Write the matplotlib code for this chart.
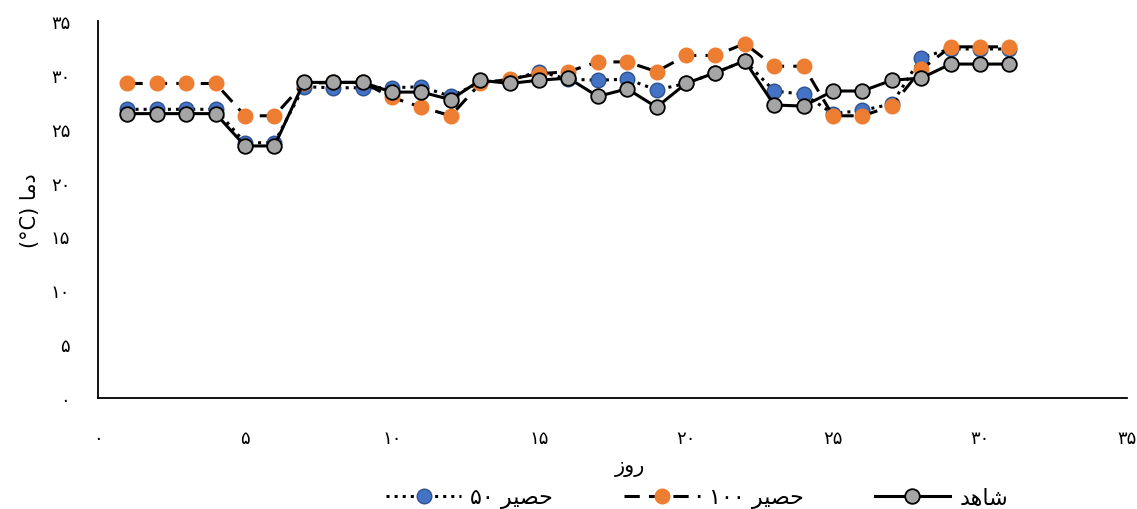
import matplotlib
matplotlib.use("Agg")
import matplotlib.pyplot as plt

# Persian text written in visual order with Arabic presentation forms
# (matplotlib does no Arabic shaping / RTL layout)
lbl_x = "\u0632\u0648\u0631"                       # روز (all non-joining)
lbl_y = "(\u00B0C) " + "\uFE8E\uFEE3\uFEA9"        # دما (°C)
hasir = "\uFEAE\uFEF4\uFEBC\uFEA3"                 # حصیر
name_50 = "\u06F5\u06F0 " + hasir                  # حصیر ۵۰
name_100 = "\u06F1\u06F0\u06F0 " + hasir           # حصیر ۱۰۰
name_ctrl = "\uFEAA\uFEEB\uFE8E\uFEB7"             # شاهد

days = list(range(1, 32))
hasir_50 = [26.8, 26.8, 26.8, 26.8, 23.7, 23.7, 28.9, 28.8, 28.8, 28.8,
            28.9, 28.0, 29.3, 29.5, 30.3, 29.6, 29.5, 29.6, 28.6, 29.2,
            30.2, 31.3, 28.5, 28.2, 26.4, 26.7, 27.3, 31.6, 32.4, 32.4, 32.4]
hasir_100 = [29.2, 29.2, 29.2, 29.2, 26.2, 26.2, 29.2, 29.3, 29.3, 27.9,
             27.0, 26.2, 29.2, 29.6, 30.1, 30.3, 31.2, 31.2, 30.3, 31.8,
             31.8, 32.9, 30.8, 30.8, 26.2, 26.2, 27.1, 30.5, 32.6, 32.6, 32.6]
control = [26.4, 26.4, 26.4, 26.4, 23.4, 23.4, 29.3, 29.3, 29.3, 28.4,
           28.4, 27.7, 29.5, 29.2, 29.5, 29.7, 28.0, 28.7, 27.0, 29.2,
           30.2, 31.3, 27.2, 27.1, 28.5, 28.5, 29.5, 29.7, 31.0, 31.0, 31.0]

ticks = [0, 5, 10, 15, 20, 25, 30, 35]
tick_labels = ["\u06F0", "\u06F5", "\u06F1\u06F0", "\u06F1\u06F5", "\u06F2\u06F0",
               "\u06F2\u06F5", "\u06F3\u06F0", "\u06F3\u06F5"]

plt.rcParams['font.family'] = ['DejaVu Sans']

fig = plt.figure(figsize=(11.37, 5.10), dpi=100)
ax = fig.add_axes([0.0862, 0.2176, 0.905, 0.7393])

ax.plot(days, hasir_50, color='black', linestyle=':', linewidth=2.2,
        marker='o', markersize=10.5, markerfacecolor='#4472C4',
        markeredgecolor='#2F528F', markeredgewidth=1, label=name_50)
ax.plot(days, hasir_100, color='black', linestyle=(0, (5, 3)), linewidth=2.2,
        marker='o', markersize=10.5, markerfacecolor='#ED7D31',
        markeredgecolor='#ED7D31', markeredgewidth=1, label=name_100)
ax.plot(days, control, color='black', linestyle='-', linewidth=2.2,
        marker='o', markersize=10.5, markerfacecolor='#A5A5A5',
        markeredgecolor='black', markeredgewidth=1.3, label=name_ctrl)

ax.set_xlim(0, 35)
ax.set_ylim(0, 35)
ax.set_xticks(ticks)
ax.set_xticklabels(tick_labels)
ax.set_yticks(ticks)
ax.set_yticklabels(tick_labels)
ax.tick_params(length=0, labelsize=13)
ax.tick_params(axis='x', pad=22)
ax.tick_params(axis='y', pad=20)

ax.spines['top'].set_visible(False)
ax.spines['right'].set_visible(False)
ax.spines['left'].set_linewidth(1.3)
ax.spines['bottom'].set_linewidth(1.3)

ax.set_xlabel(lbl_x, fontsize=15, labelpad=7, x=0.517)
ax.set_ylabel(lbl_y, fontsize=15, labelpad=8)

ax.legend(loc='center', bbox_to_anchor=(0.582, -0.265), ncol=3,
          frameon=False, fontsize=16, handlelength=3.4, handletextpad=0.4,
          columnspacing=3.2)

fig.savefig("out.png", dpi=100)
